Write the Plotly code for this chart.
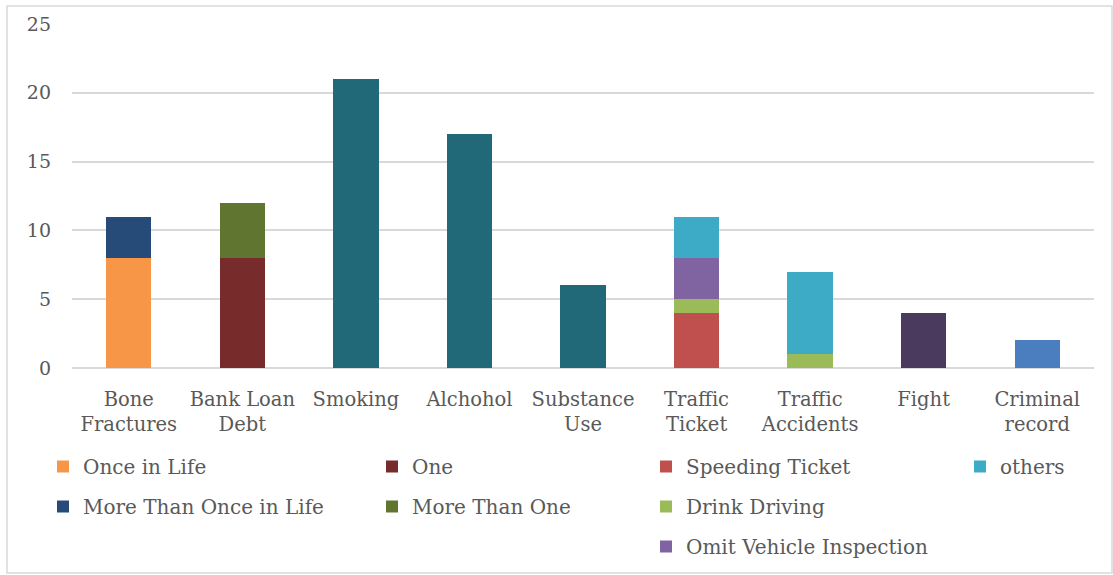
import plotly.graph_objects as go

categories = ["Bone<br>Fractures", "Bank Loan<br>Debt", "Smoking", "Alchohol", "Substance<br>Use",
              "Traffic<br>Ticket", "Traffic<br>Accidents", "Fight", "Criminal<br>record"]

once_in_life = [8, None, None, None, None, None, None, None, None]
more_than_once_in_life = [3, None, None, None, None, None, None, None, None]
one = [None, 8, None, None, None, None, None, None, None]
more_than_one = [None, 4, None, None, None, None, None, None, None]
speeding_ticket = [None, None, None, None, None, 4, None, None, None]
drink_driving = [None, None, None, None, None, 1, 1, None, None]
omit_vehicle_inspection = [None, None, None, None, None, 3, None, None, None]
others = [None, None, None, None, None, 3, 6, None, None]
habits = [None, None, 21, 17, 6, None, None, None, None]
fight = [None, None, None, None, None, None, None, 4, None]
criminal = [None, None, None, None, None, None, None, None, 2]

FONT = "DejaVu Serif"
GREY = "#595959"

fig = go.Figure()

def add(name, vals, color, legend=None, group=None, show=True):
    fig.add_trace(go.Bar(
        x=categories, y=vals, name=name, marker_color=color,
        marker_line_width=0, showlegend=show,
        legend=legend if legend else "legend",
        legendgroup=group if group else name,
    ))

# column 1
add("Once in Life", once_in_life, "#F79646", "legend")
add("More Than Once in Life", more_than_once_in_life, "#264B78", "legend")
# column 2
add("One", one, "#772B2B", "legend2")
add("More Than One", more_than_one, "#5F7530", "legend2")
# column 3
add("Speeding Ticket", speeding_ticket, "#C0504D", "legend3")
add("Drink Driving", drink_driving, "#9BBB59", "legend3")
add("Omit Vehicle Inspection", omit_vehicle_inspection, "#8064A2", "legend3")
# column 4
add("others", others, "#3DAAC6", "legend4")
# unlisted
add("Total", habits, "#216879", show=False)
add("Fight", fight, "#4A3A5E", show=False)
add("Criminal record", criminal, "#4A7EBF", show=False)

W, H = 1113, 575
L, R, T, B = 72, 19, 24, 207
pw, ph = W - L - R, H - T - B

def px(xp):
    return (xp - L) / pw

def py(yp):
    return (H - B - yp) / ph

def cx(xp):
    return xp / W

def cy(yp):
    return 1 - yp / H

legend_common = dict(
    orientation="v", traceorder="grouped", tracegroupgap=11,
    font=dict(family=FONT, size=20, color=GREY),
    bgcolor="rgba(0,0,0,0)", xanchor="left", yanchor="top",
    xref="container", yref="container",
    y=cy(447), itemclick=False, itemdoubleclick=False,
)

fig.update_layout(
    width=W, height=H,
    margin=dict(l=L, r=R, t=T, b=B, autoexpand=False),
    paper_bgcolor="white", plot_bgcolor="white",
    barmode="stack", bargap=0.6,
    font=dict(family=FONT, size=19, color=GREY),
    legend=dict(x=cx(43), **legend_common),
    legend2=dict(x=cx(372), **legend_common),
    legend3=dict(x=cx(646), **legend_common),
    legend4=dict(x=cx(960), **legend_common),
    xaxis=dict(showgrid=False, showline=False, ticks="",
               tickfont=dict(family=FONT, size=19.5, color=GREY),
               ticklabelstandoff=17, tickangle=0),
    yaxis=dict(range=[0, 25], dtick=5, showgrid=True, gridcolor="#D9D9D9", gridwidth=1.5,
               zeroline=True, zerolinecolor="#D9D9D9", zerolinewidth=1.5,
               showline=False, ticks="", ticklabelstandoff=20,
               tickfont=dict(family=FONT, size=19, color=GREY)),
    shapes=[dict(type="rect", xref="paper", yref="paper",
                 x0=px(7), x1=px(1112), y0=py(573), y1=py(6),
                 line=dict(color="#D9D9D9", width=1.5), fillcolor="rgba(0,0,0,0)",
                 layer="below")],
)

fig.write_html("out.html")
